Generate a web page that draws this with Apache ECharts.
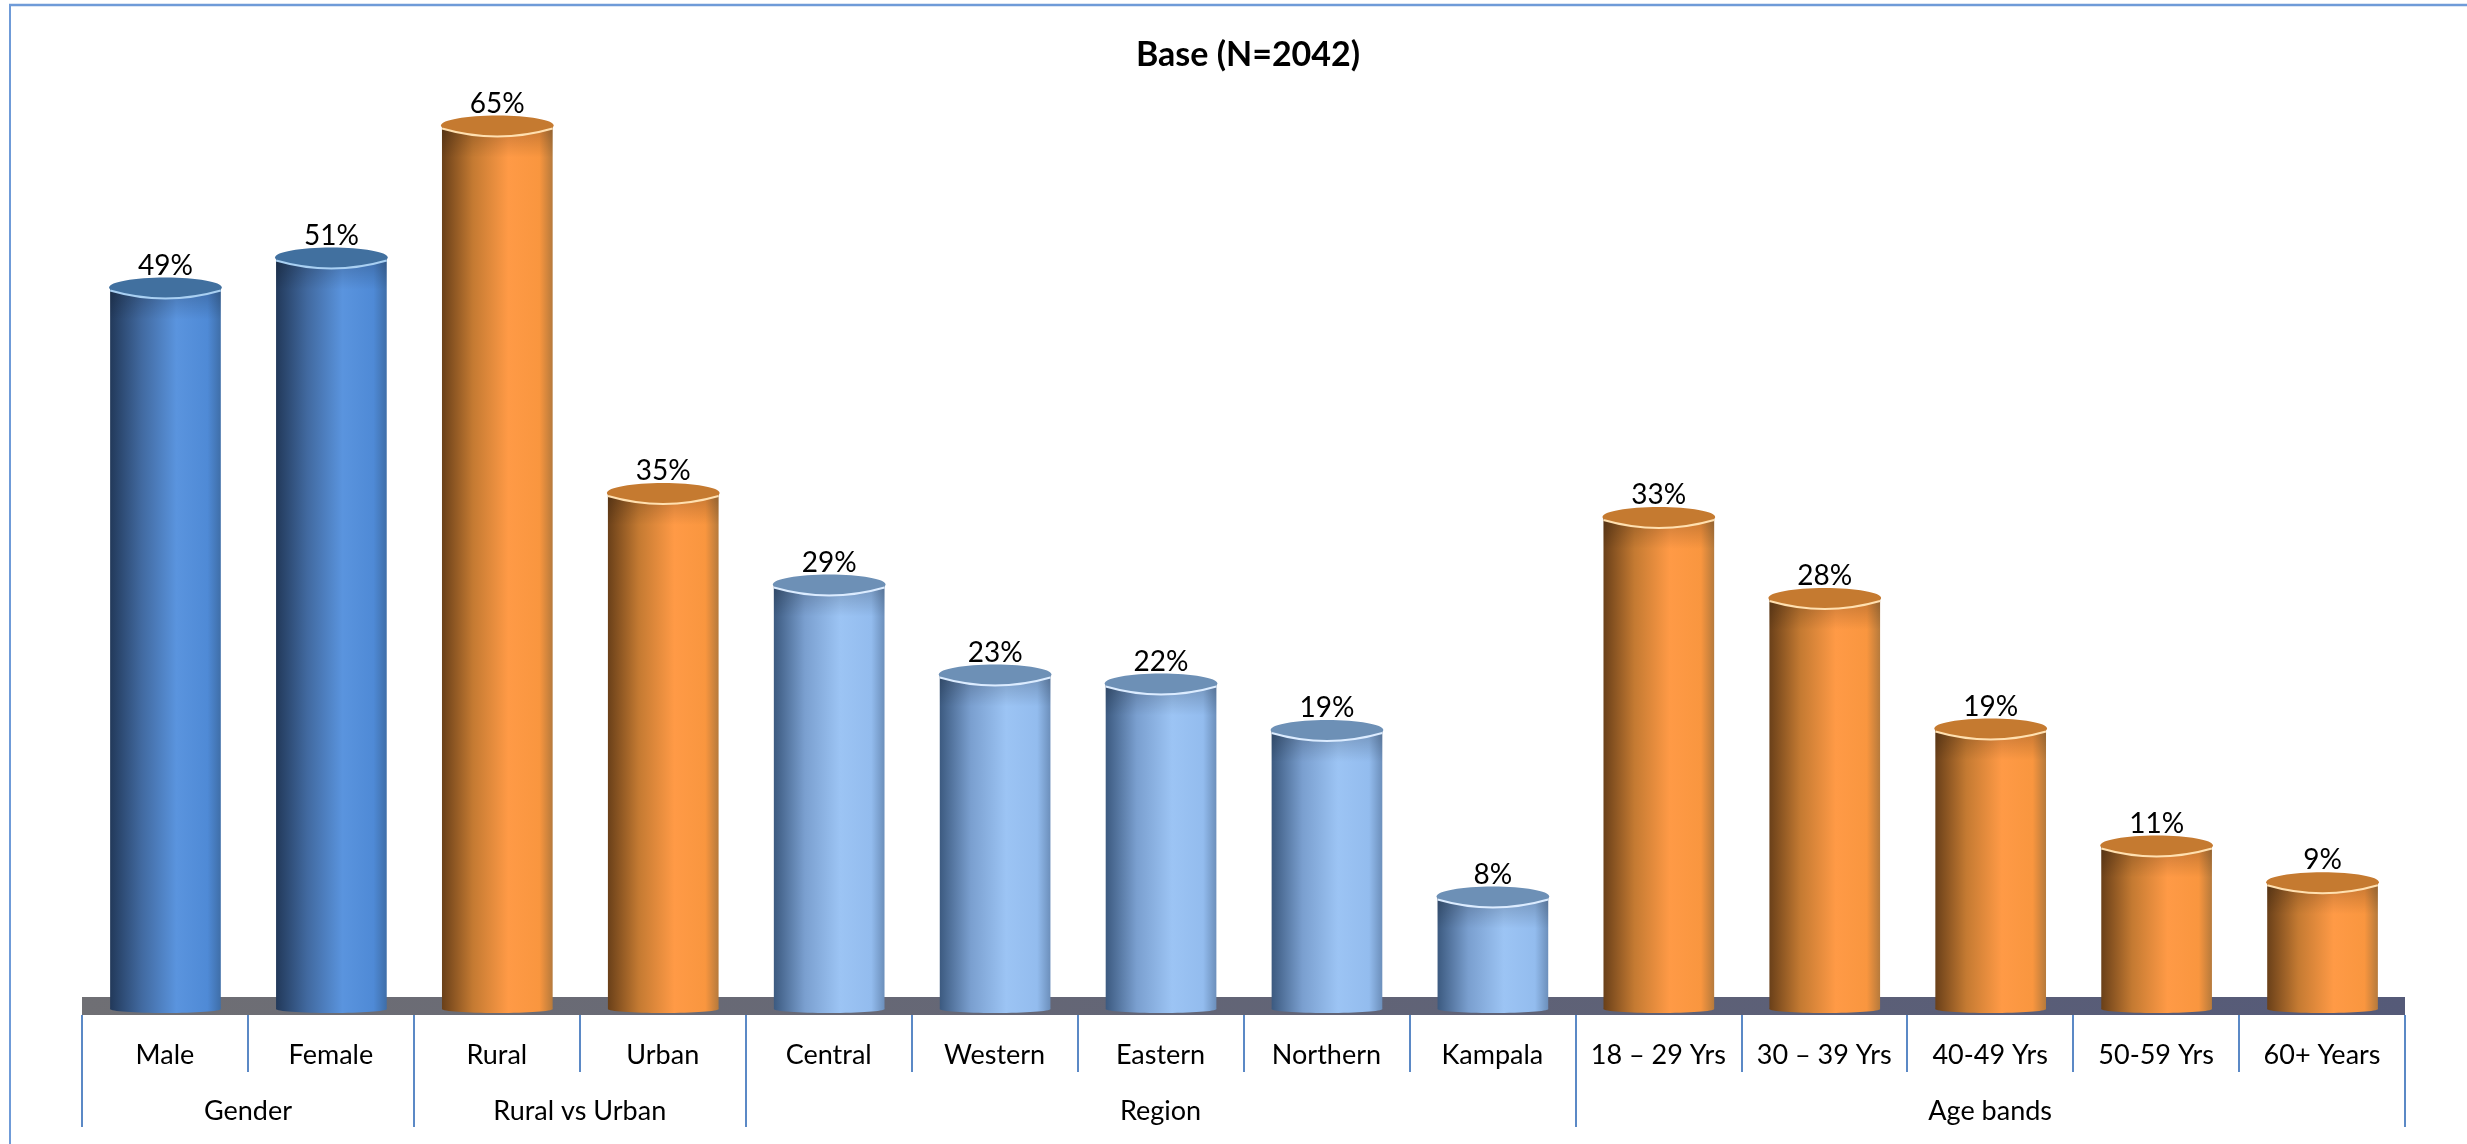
<!DOCTYPE html>
<html><head><meta charset="utf-8">
<style>html,body{margin:0;padding:0;background:#fff}#c{width:2467px;height:1144px}</style>
<script src="https://cdn.jsdelivr.net/npm/echarts@6/dist/echarts.min.js"></script>
</head><body><div id="c"></div>
<script>
const chartTitle = 'Base (N=2042)';
const categories = ['Male','Female','Rural','Urban','Central','Western','Eastern','Northern','Kampala','18 – 29 Yrs','30 – 39 Yrs','40-49 Yrs','50-59 Yrs','60+ Years'];
const printedLabels = ['49%','51%','65%','35%','29%','23%','22%','19%','8%','33%','28%','19%','11%','9%'];
// Heights as drawn in the picture (the Rural column is drawn shorter than its printed 65%)
const drawnHeights = [48.5,50.5,59.3,34.8,28.7,22.7,22.1,19,7.9,33.2,27.8,19.1,11.3,8.85];
const paletteOfBar = [0,0,1,1,2,2,2,2,2,1,1,1,1,1];
const groupNames = ['Gender','Rural vs Urban','Region','Age bands'];
const groupBoundaries = [0,2,4,9,14];
const groupCentres = [1,3,6.5,11.5];

const palettes = [
  {stops:['#22395a','#41699f','#5a94de','#4f8ad6','#3f6ea8'], top:'#41709f', rim:'#a9d0f2'},
  {stops:['#6a4019','#c47a32','#ff9a46','#f9963f','#b67a3c'], top:'#c57a30', rim:'#ffe0b0'},
  {stops:['#3c5a80','#7a9fcf','#9cc4f4','#93bcee','#6c8fbb'], top:'#6d90b6', rim:'#dcecff'}
];
const ink = '#000';
const fontFamily = 'Lato, Carlito, "Open Sans", sans-serif';
const axisBlue = '#5b89c6';
const frameBlue = '#6f9bd8';

function cylinder(params, api) {
  const i = api.value(0), top = api.coord([i, api.value(1)]), base = api.coord([i, 0]);
  const w = api.size([1, 0])[0] * 0.667, rx = w / 2, ry = 10;
  const p = palettes[paletteOfBar[i]];
  const cx = top[0] + 0.5, ty = top[1], by = base[1] - 6;
  const grad = {type:'linear',x:0,y:0,x2:1,y2:0,colorStops:[
    {offset:0,color:p.stops[0]},{offset:.28,color:p.stops[1]},{offset:.6,color:p.stops[2]},
    {offset:.88,color:p.stops[3]},{offset:1,color:p.stops[4]}]};
  const shade = {type:'linear',x:0,y:0,x2:0,y2:1,colorStops:[
    {offset:0,color:'rgba(0,0,0,0.22)'},{offset:1,color:'rgba(0,0,0,0)'}]};
  return {type:'group',children:[
    {type:'ellipse',shape:{cx:cx,cy:by,rx:rx,ry:4},style:{fill:grad}},
    {type:'rect',shape:{x:cx-rx,y:ty,width:w,height:by-ty},style:{fill:grad}},
    {type:'rect',shape:{x:cx-rx,y:ty,width:w,height:Math.min(32,by-ty)},style:{fill:shade}},
    {type:'ellipse',shape:{cx:cx,cy:ty,rx:rx+1,ry:ry},style:{fill:p.top}},
    {type:'bezierCurve',shape:{x1:cx-rx,y1:ty+3,x2:cx+rx,y2:ty+3,cpx1:cx,cpy1:ty+ry*1.9},
      style:{fill:'none',stroke:p.rim,lineWidth:2}},
    {type:'text',style:{text:printedLabels[i],x:cx,y:ty-22,align:'center',verticalAlign:'middle',
      fill:ink,fontSize:28,fontFamily:fontFamily}}
  ]};
}
function floorBand(params, api) {
  const g = params.coordSys, h = 18;
  return {type:'rect',shape:{x:g.x,y:g.y+g.height-h,width:g.width,height:h},
    style:{fill:{type:'linear',x:0,y:0,x2:1,y2:0,colorStops:[{offset:0,color:'#6f6f74'},{offset:1,color:'#555a78'}]}}};
}

const chart = echarts.init(document.getElementById('c'), null, {renderer:'canvas'});
chart.setOption({
  animation:false,
  backgroundColor:'#fff',
  title:{text:chartTitle,left:1243,top:50,textAlign:'center',textVerticalAlign:'middle',
    textStyle:{fontFamily:fontFamily,fontWeight:'bold',fontSize:34,color:ink}},
  graphic:[
    {type:'line',silent:true,z:-1,shape:{x1:9,y1:5,x2:2467,y2:5},style:{stroke:frameBlue,lineWidth:2.5}},
    {type:'line',silent:true,z:-1,shape:{x1:10,y1:5,x2:10,y2:1144},style:{stroke:frameBlue,lineWidth:2}}
  ],
  grid:{left:82,right:62,top:115,bottom:129},
  xAxis:[
    {type:'category',data:categories,position:'bottom',boundaryGap:true,
     axisLine:{show:false},
     axisTick:{show:true,interval:0,length:57,lineStyle:{color:axisBlue,width:2}},
     axisLabel:{interval:0,margin:27,fontSize:27,fontFamily:fontFamily,color:ink}},
    {type:'value',min:0,max:14,position:'bottom',splitLine:{show:false},
     axisLine:{show:false},
     axisTick:{show:true,customValues:groupBoundaries,length:112,lineStyle:{color:axisBlue,width:2}},
     axisLabel:{customValues:groupCentres,margin:83,fontSize:27,fontFamily:fontFamily,color:ink,
       formatter:v=>groupNames[groupCentres.indexOf(v)]}}
  ],
  yAxis:{type:'value',min:0,max:60,show:false},
  series:[
    {type:'custom',name:'floor',renderItem:floorBand,data:[0],z:1,silent:true,encode:{x:0}},
    {type:'custom',name:'Base',renderItem:cylinder,z:2,xAxisIndex:0,
     data:drawnHeights.map((v,i)=>[i,v]),encode:{x:0,y:1}}
  ]
});
</script></body></html>
